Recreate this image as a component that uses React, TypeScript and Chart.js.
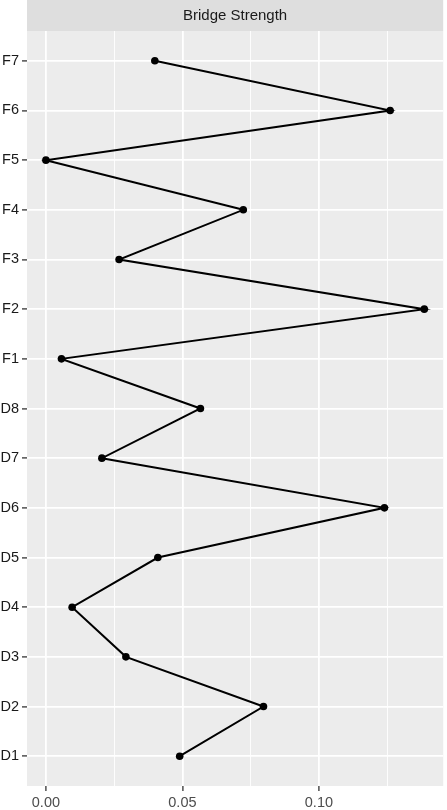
import React, { useEffect, useRef } from "react";
import { Chart, registerables } from "chart.js";

Chart.register(...registerables);

const categories = ["D1", "D2", "D3", "D4", "D5", "D6", "D7", "D8", "F1", "F2", "F3", "F4", "F5", "F6", "F7"];
const bridgeStrength = [0.049, 0.0797, 0.0293, 0.0096, 0.041, 0.124, 0.0205, 0.0566, 0.0057, 0.1386, 0.0268, 0.0723, 0.0, 0.1261, 0.0399];
const xMajorTicks = [0, 0.05, 0.1];
const xMinorTicks = [0.025, 0.075, 0.125];
const xTickLabels = ["0.00", "0.05", "0.10"];
const stripTitle = "Bridge Strength";

const W = 447;
const H = 810;
const FONT = "'Liberation Sans', Arial, sans-serif";

export default function App() {
  const ref = useRef<HTMLCanvasElement | null>(null);

  useEffect(() => {
    document.body.style.margin = "0";
    const canvas = ref.current;
    if (!canvas) return;

    const dataMin = Math.min(...bridgeStrength);
    const dataMax = Math.max(...bridgeStrength);
    const pad = (dataMax - dataMin) * 0.05;

    const bgPlugin = {
      id: "ggBackground",
      beforeDraw(chart: any) {
        const { ctx, chartArea } = chart;
        ctx.save();
        ctx.fillStyle = "#ffffff";
        ctx.fillRect(0, 0, chart.width, chart.height);
        ctx.fillStyle = "#ececec";
        ctx.fillRect(chartArea.left, chartArea.top, chartArea.right - chartArea.left, chartArea.bottom - chartArea.top);
        // strip
        ctx.fillStyle = "#dedede";
        ctx.fillRect(chartArea.left, 0, chartArea.right - chartArea.left, chartArea.top);
        ctx.fillStyle = "#1a1a1a";
        ctx.font = `15px ${FONT}`;
        ctx.textAlign = "center";
        ctx.textBaseline = "middle";
        ctx.fillText(stripTitle, (chartArea.left + chartArea.right) / 2, chartArea.top / 2);
        ctx.restore();
      },
    };

    const allX = [...xMajorTicks, ...xMinorTicks].sort((a, b) => a - b);
    const isMajor = (v: number) => xMajorTicks.some((m) => Math.abs(m - v) < 1e-9);

    const chart = new Chart(canvas, {
      type: "scatter",
      data: {
        datasets: [
          {
            data: bridgeStrength.map((v, i) => ({ x: v, y: i })),
            showLine: true,
            borderColor: "#000000",
            backgroundColor: "#000000",
            borderWidth: 2,
            pointRadius: 3.8,
            pointHoverRadius: 3.8,
            pointBorderWidth: 0,
          },
        ],
      },
      options: {
        animation: false,
        responsive: false,
        layout: { padding: { top: 31, right: 2, left: 0, bottom: 0 } },
        plugins: { legend: { display: false }, tooltip: { enabled: false } },
        scales: {
          x: {
            type: "linear",
            min: dataMin - pad,
            max: dataMax + pad,
            afterBuildTicks: (scale: any) => {
              scale.ticks = allX.map((v) => ({ value: v }));
            },
            afterFit: (scale: any) => {
              scale.height = 24;
            },
            border: { display: false },
            grid: {
              color: "#ffffff",
              lineWidth: (ctx: any) => (ctx.tick && isMajor(ctx.tick.value) ? 1.8 : 0.9),
              drawTicks: true,
              tickLength: 5,
              tickWidth: 1.3,
              tickColor: (ctx: any) => (ctx.tick && isMajor(ctx.tick.value) ? "#333333" : "rgba(0,0,0,0)"),
            },
            ticks: {
              autoSkip: false,
              maxRotation: 0,
              padding: 3,
              color: "#4d4d4d",
              font: { family: FONT, size: 14.5 },
              callback: (value: any) => {
                const idx = xMajorTicks.findIndex((m) => Math.abs(m - Number(value)) < 1e-9);
                return idx >= 0 ? xTickLabels[idx] : "";
              },
            },
          },
          y: {
            type: "linear",
            min: -0.6,
            max: categories.length - 1 + 0.6,
            afterBuildTicks: (scale: any) => {
              scale.ticks = categories.map((_, i) => ({ value: i }));
            },
            afterFit: (scale: any) => {
              scale.width = 27;
            },
            border: { display: false },
            grid: {
              color: "#ffffff",
              lineWidth: 1.8,
              drawTicks: true,
              tickLength: 5,
              tickWidth: 1.3,
              tickColor: "#333333",
            },
            ticks: {
              autoSkip: false,
              padding: 3,
              color: "#1a1a1a",
              font: { family: FONT, size: 14.5 },
              callback: (value: any) => categories[Math.round(Number(value))] ?? "",
            },
          },
        },
      } as any,
      plugins: [bgPlugin],
    });

    return () => chart.destroy();
  }, []);

  return (
    <div style={{ width: W, height: H }}>
      <canvas ref={ref} width={W} height={H} style={{ display: "block", width: W, height: H }} />
    </div>
  );
}
